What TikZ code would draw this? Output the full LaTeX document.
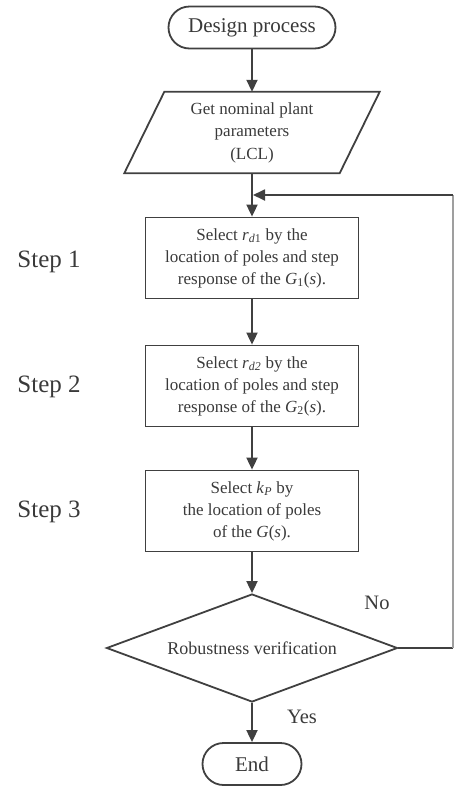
\documentclass[tikz,border=0pt]{standalone}
\usepackage{fontspec}
\setmainfont{Liberation Serif}
\usetikzlibrary{arrows.meta,shapes.geometric}
\definecolor{ln}{HTML}{404040}
\definecolor{tx}{HTML}{3A3A3A}
\begin{document}
\begin{tikzpicture}[x=1pt,y=-1pt,
  every node/.style={text=tx},
  line/.style={draw=ln,line width=1.8pt},
  arr/.style={line,-{Triangle[length=12pt,width=11pt]}},
  proc/.style={draw=ln,line width=1.8pt,minimum width=213pt,minimum height=81pt,align=center,font=\fontsize{17}{22}\selectfont,inner sep=0pt},
  term/.style={draw=ln,line width=1.8pt,rounded corners=21pt,minimum height=42pt,font=\fontsize{21}{25}\selectfont,inner sep=0pt},
  lab/.style={font=\fontsize{25}{30}\selectfont},
  yn/.style={font=\fontsize{20.5}{25}\selectfont},
]
\useasboundingbox (0,0) rectangle (455,788);
\node[term,minimum width=167pt] (start) at (252,27.5) {Design process};
\node[minimum width=215pt,minimum height=81pt,align=center,font=\fontsize{17}{22.5}\selectfont,inner sep=0pt] (param) at (252,132.5) {Get nominal plant\\parameters\\(LCL)};
\draw[line,line join=miter] ([xshift=20pt]param.north west) -- ([xshift=20pt]param.north east) -- ([xshift=-20pt]param.south east) -- ([xshift=-20pt]param.south west) -- cycle;
\node[proc] (b1) at (252,258) {Select \textit{r}\textsubscript{\textit{d}1} by the\\location of poles and step\\response of the \textit{G}\textsubscript{1}(\textit{s}).};
\node[proc] (b2) at (252,386) {Select \textit{r}\textsubscript{\textit{d2}} by the\\location of poles and step\\response of the \textit{G}\textsubscript{2}(\textit{s}).};
\node[proc] (b3) at (252,511) {Select \textit{k}\textsubscript{\textit{P}} by\\the location of poles\\of the \textit{G}(\textit{s}).};
\node[draw=ln,line width=1.8pt,diamond,aspect=2.7,minimum width=291pt,minimum height=108pt,inner sep=0pt,font=\fontsize{18}{22}\selectfont] (dia) at (252,648) {Robustness verification};
\node[term,minimum width=99pt] (end) at (252,764) {End};
\node[lab] (s1) at (49,262) {Step 1};
\node[lab] (s2) at (49,387) {Step 2};
\node[lab] (s3) at (49,512) {Step 3};
\node[yn] (no) at (377,603) {No};
\node[yn] (yes) at (302,717) {Yes};
\draw[arr] (start) -- (param.north);
\draw[arr] (param.south) -- (b1);
\draw[arr] (b1) -- (b2);
\draw[arr] (b2) -- (b3);
\draw[arr] (b3) -- (dia);
\draw[arr] (dia) -- (end);
\coordinate (join) at (253,195);
\coordinate (fb) at (453,195);
\draw[line] (dia.east) -- (dia.east -| fb);
\draw[draw=gray!75,line width=1.2pt] (dia.east -| fb) -- (fb);
\draw[arr] (fb) -- (join);
\end{tikzpicture}
\end{document}
